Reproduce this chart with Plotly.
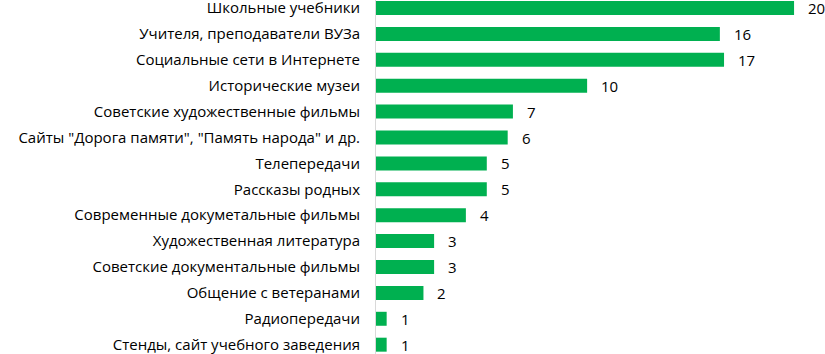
import plotly.graph_objects as go

categories = [
    "Школьные учебники",
    "Учителя, преподаватели ВУЗа",
    "Социальные сети в Интернете",
    "Исторические музеи",
    "Советские художественные фильмы",
    "Сайты \"Дорога памяти\", \"Память народа\" и др.",
    "Телепередачи",
    "Рассказы родных",
    "Современные докуметальные фильмы",
    "Художественная литература",
    "Советские документальные фильмы",
    "Общение с ветеранами",
    "Радиопередачи",
    "Стенды, сайт учебного заведения",
]
values = [20.0, 16.45, 16.65, 10.1, 6.55, 6.3, 5.3, 5.3, 4.3, 2.78, 2.78, 2.27, 0.51, 0.51]
value_labels = ["20", "16", "17", "10", "7", "6", "5", "5", "4", "3", "3", "2", "1", "1"]

GREEN = "#00B050"
FONT = "Open Sans, Liberation Sans, Arial, sans-serif"

fig = go.Figure()
fig.add_trace(go.Bar(
    x=values,
    y=categories,
    orientation="h",
    marker=dict(color=GREEN, line=dict(width=0)),
    width=0.54,
    hoverinfo="x+y",
))

for v, c, t in zip(values, categories, value_labels):
    fig.add_annotation(
        x=v, y=c, text=t, showarrow=False,
        xanchor="left", yanchor="middle", xshift=12,
        font=dict(family=FONT, size=15, color="#000000"),
    )

n = len(categories)
fig.update_layout(
    template="none",
    width=825, height=354,
    margin=dict(l=376, r=0, t=0, b=0, autoexpand=False),
    paper_bgcolor="white", plot_bgcolor="white",
    showlegend=False,
    font=dict(family=FONT, size=15, color="#000000"),
    xaxis=dict(range=[0, 21.48], visible=False, showgrid=False, zeroline=False,
               automargin=False),
    yaxis=dict(
        type="category",
        categoryorder="array", categoryarray=categories,
        range=[n - 1 + 0.36, -0.31],
        showline=True, linecolor="#D9D9D9", linewidth=1,
        ticks="", showgrid=False, zeroline=False,
        automargin=False,
        ticklabelstandoff=12,
        tickfont=dict(family=FONT, size=15, color="#000000"),
    ),
)

fig.write_html(
    "out.html",
    config={"displayModeBar": False},
    post_script="document.body.style.margin='0';document.body.style.overflow='hidden';",
)
